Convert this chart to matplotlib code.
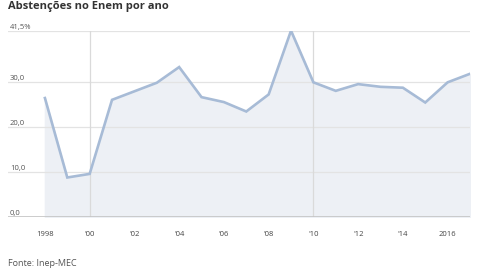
import matplotlib
matplotlib.use('Agg')
import matplotlib.pyplot as plt
import matplotlib.transforms as mtransforms

plt.rcParams['font.family'] = ['Open Sans', 'DejaVu Sans']

years = list(range(1998, 2018))
absent = [26.5, 8.8, 9.6, 26.1, 28.0, 29.9, 33.4, 26.7, 25.6, 23.5,
          27.3, 41.5, 30.0, 28.1, 29.6, 29.0, 28.8, 25.5, 30.0, 31.9]
y_ticks = [0, 10, 20, 30, 41.5]
y_labels = ['0,0', '10,0', '20,0', '30,0', '41,5%']
x_ticks = [1998, 2000, 2002, 2004, 2006, 2008, 2010, 2012, 2014, 2016]
x_labels = ['1998', "'00", "'02", "'04", "'06", "'08", "'10", "'12", "'14", '2016']
v_lines = [2000, 2010]

W, H = 480, 270
fig = plt.figure(figsize=(4.8, 2.7), dpi=100)
ax = fig.add_axes([8 / W, 1 - 217 / H, 462 / W, (217 - 30.7) / H])
ax.set_xlim(1996.35, 2017)
ax.set_ylim(0, 41.5)

ax.fill_between(years, absent, 0, color='#edf0f5', zorder=1)
for y in y_ticks[1:]:
    ax.axhline(y, color='#e3e3e3', lw=0.9, zorder=1.5)
for x in v_lines:
    ax.axvline(x, color='#dadada', lw=0.9, zorder=1.5)
ax.axhline(0, color='#c4c4c4', lw=1.2, zorder=3)
ax.plot(years, absent, color='#a7bbd6', lw=1.9, zorder=2, solid_joinstyle='miter')

trans = mtransforms.blended_transform_factory(ax.transAxes, ax.transData)
for y, lab in zip(y_ticks, y_labels):
    ax.text(2 / 462, y, lab, transform=trans, fontsize=5.5, color='#555555',
            va='bottom', ha='left')

ax.set_xticks(x_ticks)
ax.set_xticklabels(x_labels, fontsize=5.5, color='#444444')
ax.tick_params(axis='x', length=0, pad=10)
ax.set_yticks([])
for s in ax.spines.values():
    s.set_visible(False)

fig.text(8 / W, 1 - 9 / H, 'Abstenções no Enem por ano', fontsize=8,
         fontweight='bold', color='#333333', va='baseline', ha='left')
fig.text(8 / W, 4 / H, 'Fonte: Inep-MEC', fontsize=6.5, color='#555555',
         va='baseline', ha='left')

fig.savefig('out.png', dpi=100)
